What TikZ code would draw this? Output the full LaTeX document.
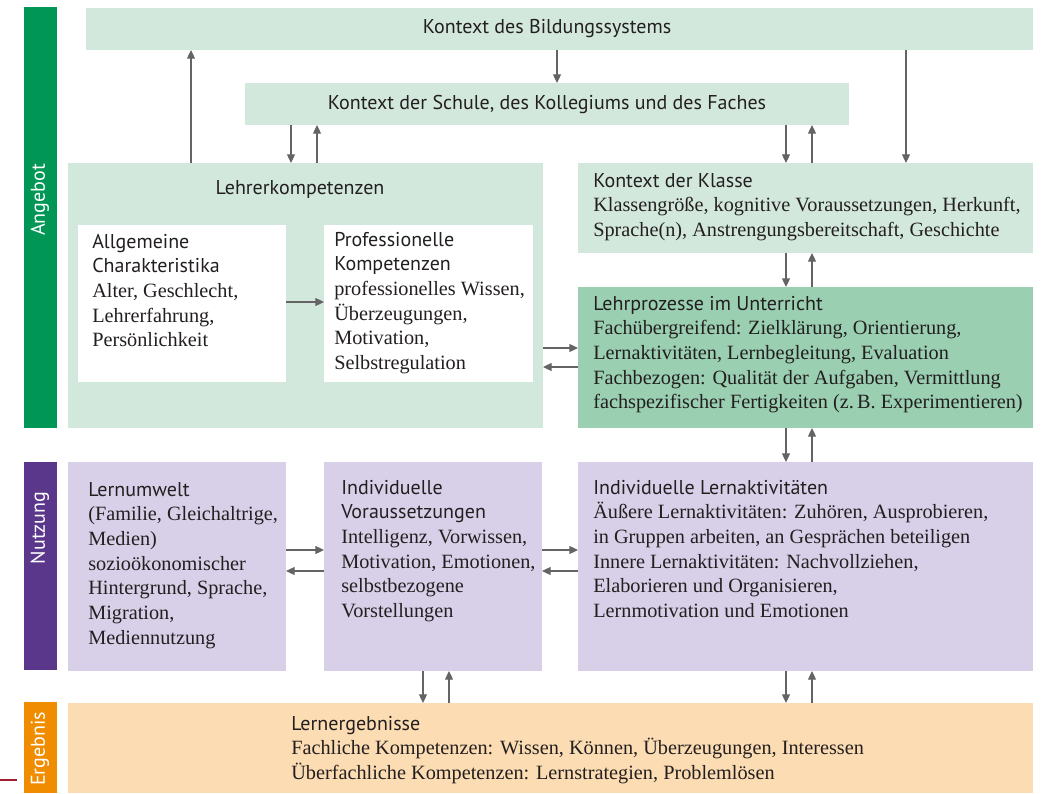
\documentclass[tikz,border=0pt]{standalone}
\usepackage{fontspec}
\setmainfont{Liberation Serif}
\setsansfont{PT Sans}
\usetikzlibrary{arrows.meta}
\definecolor{lg}{RGB}{211,232,220}
\definecolor{mg}{RGB}{154,207,177}
\definecolor{lp}{RGB}{215,208,232}
\definecolor{lo}{RGB}{252,220,178}
\definecolor{gbar}{RGB}{0,150,85}
\definecolor{pbar}{RGB}{91,55,140}
\definecolor{obar}{RGB}{240,140,0}
\definecolor{agray}{RGB}{100,100,100}
\definecolor{txt}{RGB}{35,31,32}
\definecolor{redl}{RGB}{160,30,50}
\newcommand\hd[1]{{\sffamily\fontsize{15}{18.5}\selectfont #1}}
\newcommand\blk[1]{\begin{tabular}[t]{@{}l@{}}#1\end{tabular}}
\begin{document}
\begin{tikzpicture}[x=0.75pt,y=-0.75pt,
  bx/.style n args={4}{at={(#1,#2)}, anchor=north west, minimum width=#3*0.75pt,
    minimum height=#4*0.75pt, inner sep=0pt, outer sep=0pt, draw=none},
  arr/.style={draw=agray, line width=0.9pt, -{Triangle[length=6.5pt,width=6pt]}, fill=agray},
  body/.style={font=\fontsize{15.2}{18.5}\selectfont, text=txt, inner sep=0pt, anchor=base west},
  ctr/.style={font=\sffamily\fontsize{15}{18.5}\selectfont, text=txt, inner sep=0pt},
  barlbl/.style={font=\sffamily\fontsize{15}{17}\selectfont, text=white, rotate=90, inner sep=0pt}]
\useasboundingbox (0,0) rectangle (1043,793);

% side bars
\node[bx={24}{7}{33}{421}, fill=gbar] (angebot) {};
\node[bx={24}{462}{33}{208}, fill=pbar] (nutzung) {};
\node[bx={24}{702}{33}{91}, fill=obar] (ergebnis) {};
\node[barlbl] (angebotT) at (40,200) {Angebot};
\node[barlbl] (nutzungT) at (40,528) {Nutzung};
\node[barlbl] (ergebnisT) at (40,749) {Ergebnis};
\coordinate (rl0) at (0,780);
\coordinate (rl1) at (17,780);
\draw[redl, line width=1.3pt] (rl0) -- (rl1);

% boxes
\node[bx={86}{8}{947}{42}, fill=lg] (sys) {};
\node[bx={245}{83}{604}{42}, fill=lg] (schule) {};
\node[bx={68}{163}{475}{265}, fill=lg] (lk) {};
\node[bx={78}{225}{208}{157}, fill=white] (allg) {};
\node[bx={324}{225}{209}{157}, fill=white] (prof) {};
\node[bx={578}{163}{455}{90}, fill=lg] (klasse) {};
\node[bx={578}{287}{455}{141}, fill=mg] (lehrp) {};
\node[bx={68}{462}{218}{209}, fill=lp] (umwelt) {};
\node[bx={324}{462}{218}{209}, fill=lp] (vorauss) {};
\node[bx={578}{462}{455}{209}, fill=lp] (aktiv) {};
\node[bx={68}{703}{965}{90}, fill=lo] (ergeb) {};

% texts
\node[ctr] (sysT) at (547,29) {Kontext des Bildungssystems};
\node[ctr] (schuleT) at (547,104) {Kontext der Schule, des Kollegiums und des Faches};
\node[ctr] (lkT) at (300,189) {Lehrerkompetenzen};
\node[body] (allgT) at (92,248) {\blk{\hd{Allgemeine}\\ \hd{Charakteristika}\\ Alter, Geschlecht,\\ Lehrerfahrung,\\ Persönlichkeit}};
\node[body] (profT) at (334,246) {\blk{\hd{Professionelle}\\ \hd{Kompetenzen}\\ professionelles Wissen,\\ Überzeugungen,\\ Motivation,\\ Selbstregulation}};
\node[body] (klasseT) at (593,187) {\blk{\hd{Kontext der Klasse}\\ Klassengröße, kognitive Voraussetzungen, Herkunft,\\ Sprache(n), Anstrengungsbereitschaft, Geschichte}};
\node[body] (lehrpT) at (593,310) {\blk{\hd{Lehrprozesse im Unterricht}\\ Fachübergreifend: Zielklärung, Orientierung,\\ Lernaktivitäten, Lernbegleitung, Evaluation\\ Fachbezogen: Qualität der Aufgaben, Vermittlung\\ fachspezifischer Fertigkeiten (z.\,B. Experimentieren)}};
\node[body] (umweltT) at (88,496) {\blk{\hd{Lernumwelt}\\ (Familie, Gleichaltrige,\\ Medien)\\ sozioökonomischer\\ Hintergrund, Sprache,\\ Migration,\\ Mediennutzung}};
\node[body] (voraussT) at (341,494) {\blk{\hd{Individuelle}\\ \hd{Voraussetzungen}\\ Intelligenz, Vorwissen,\\ Motivation, Emotionen,\\ selbstbezogene\\ Vorstellungen}};
\node[body] (aktivT) at (593,494) {\blk{\hd{Individuelle Lernaktivitäten}\\ Äußere Lernaktivitäten: Zuhören, Ausprobieren,\\ in Gruppen arbeiten, an Gesprächen beteiligen\\ Innere Lernaktivitäten: Nachvollziehen,\\ Elaborieren und Organisieren,\\ Lernmotivation und Emotionen}};
\node[body] (ergebT) at (291,730) {\blk{\hd{Lernergebnisse}\\ Fachliche Kompetenzen: Wissen, Können, Überzeugungen, Interessen\\ Überfachliche Kompetenzen: Lernstrategien, Problemlösen}};

% guide coordinates
\coordinate (x191) at (191,0);
\coordinate (x557) at (557,0);
\coordinate (x291) at (291,0);
\coordinate (x317) at (317,0);
\coordinate (x786) at (786,0);
\coordinate (x812) at (812,0);
\coordinate (x906) at (906,0);
\coordinate (x423) at (423,0);
\coordinate (x449) at (449,0);
\coordinate (y303) at (0,302);
\coordinate (y348) at (0,348);
\coordinate (y367) at (0,367);
\coordinate (y550) at (0,550);
\coordinate (y571) at (0,571);

% arrows
\draw[arr] (lk.north -| x191) -- (sys.south -| x191);
\draw[arr] (sys.south -| x557) -- (schule.north -| x557);
\draw[arr] (sys.south -| x906) -- (klasse.north -| x906);
\draw[arr] (schule.south -| x291) -- (lk.north -| x291);
\draw[arr] (lk.north -| x317) -- (schule.south -| x317);
\draw[arr] (schule.south -| x786) -- (klasse.north -| x786);
\draw[arr] (klasse.north -| x812) -- (schule.south -| x812);
\draw[arr] (klasse.south -| x786) -- (lehrp.north -| x786);
\draw[arr] (lehrp.north -| x812) -- (klasse.south -| x812);
\draw[arr] (lehrp.south -| x786) -- (aktiv.north -| x786);
\draw[arr] (aktiv.north -| x812) -- (lehrp.south -| x812);
\draw[arr] (allg.east |- y303) -- (prof.west |- y303);
\draw[arr] (lk.east |- y348) -- (lehrp.west |- y348);
\draw[arr] (lehrp.west |- y367) -- (lk.east |- y367);
\draw[arr] (umwelt.east |- y550) -- (vorauss.west |- y550);
\draw[arr] (vorauss.west |- y571) -- (umwelt.east |- y571);
\draw[arr] (vorauss.east |- y550) -- (aktiv.west |- y550);
\draw[arr] (aktiv.west |- y571) -- (vorauss.east |- y571);
\draw[arr] (vorauss.south -| x423) -- (ergeb.north -| x423);
\draw[arr] (ergeb.north -| x449) -- (vorauss.south -| x449);
\draw[arr] (aktiv.south -| x786) -- (ergeb.north -| x786);
\draw[arr] (ergeb.north -| x812) -- (aktiv.south -| x812);
\end{tikzpicture}
\end{document}
